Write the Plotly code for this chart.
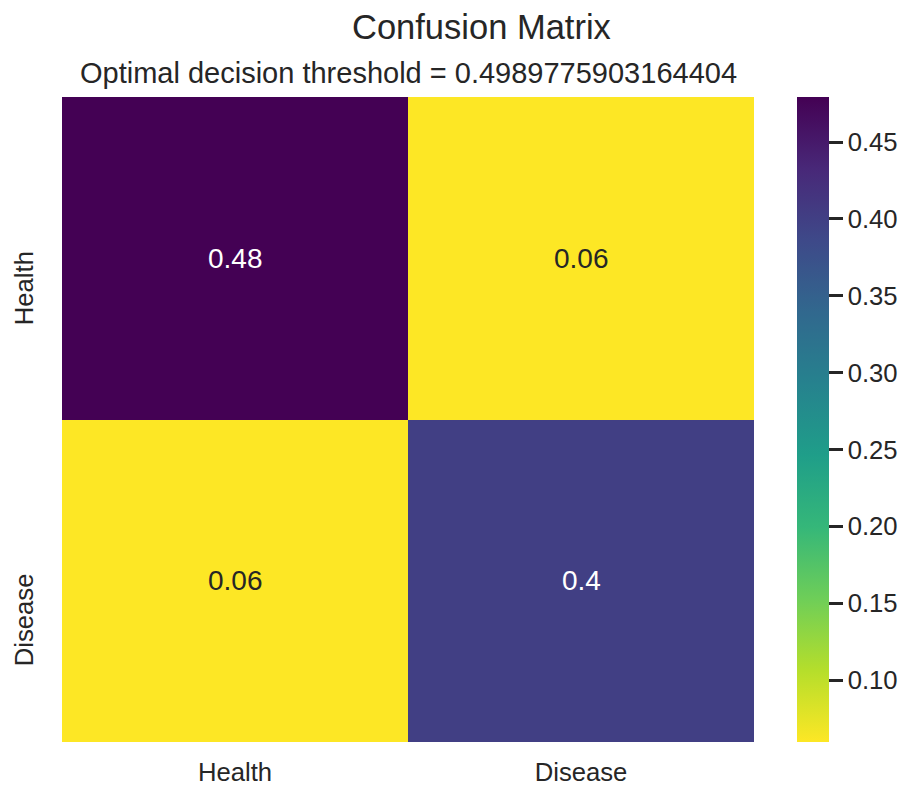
import plotly.graph_objects as go

# ---- data ----
classes = ["Health", "Disease"]
z_values = [[0.4793, 0.0598],
            [0.0600, 0.4001]]
title_text = "Confusion Matrix"
subtitle_text = "Optimal decision threshold = 0.4989775903164404"
cbar_ticks = [0.10, 0.15, 0.20, 0.25, 0.30, 0.35, 0.40, 0.45]

FONT = "Liberation Sans, Arial, sans-serif"
INK = "#262626"
BASE = 28

zmin = min(min(r) for r in z_values)
zmax = max(max(r) for r in z_values)

fig = go.Figure()
fig.add_trace(go.Heatmap(
    z=z_values, x=classes, y=classes,
    colorscale="Viridis_r", zmin=zmin, zmax=zmax,
    hoverinfo="skip",
    colorbar=dict(
        x=(797 - 62) / 692, xanchor="left", xref="paper", xpad=0, ypad=0,
        y=0.5, yanchor="middle", len=1.0, lenmode="fraction",
        thickness=32, outlinewidth=0,
        tickvals=cbar_ticks, ticktext=[f"{t:.2f}" for t in cbar_ticks],
        ticks="outside", ticklen=14, tickwidth=2.5, tickcolor=INK,
        tickfont=dict(family=FONT, size=BASE * 11 / 12, color=INK),
    ),
))

annotations = []
mid = (zmin + zmax) / 2
for i, yc in enumerate(classes):
    for j, xc in enumerate(classes):
        v = z_values[i][j]
        annotations.append(dict(
            x=xc, y=yc, xref="x", yref="y", text=format(v, ".2g"),
            showarrow=False,
            font=dict(family=FONT, size=BASE, color="white" if v > mid else INK),
        ))

# y tick labels (rotated)
for yc in classes:
    annotations.append(dict(
        x=(24 - 62) / 692, xref="paper", xanchor="center",
        y=yc, yref="y", yanchor="top", yshift=9,
        text=yc, textangle=-90, showarrow=False,
        font=dict(family=FONT, size=BASE * 11 / 12, color=INK),
    ))

annotations.append(dict(
    x=(481 - 62) / 692, xref="paper", xanchor="center",
    y=(742 - 27) / 645, yref="paper", yanchor="middle",
    text=title_text, showarrow=False,
    font=dict(family=FONT, size=34.5, color=INK),
))
annotations.append(dict(
    x=(409 - 62) / 692, xref="paper", xanchor="center",
    y=(742 - 73.5) / 645, yref="paper", yanchor="middle",
    text=subtitle_text, showarrow=False,
    font=dict(family=FONT, size=29, color=INK),
))

fig.update_layout(
    width=909, height=791,
    margin=dict(l=62, r=155, t=97, b=49, pad=0, autoexpand=False),
    paper_bgcolor="white", plot_bgcolor="white",
    annotations=annotations,
    xaxis=dict(showgrid=False, zeroline=False, showline=False, ticks="",
               automargin=False,
               tickfont=dict(family=FONT, size=BASE * 11 / 12, color=INK),
               ticklabelstandoff=12),
    yaxis=dict(showgrid=False, zeroline=False, showline=False, ticks="",
               automargin=False,
               autorange="reversed", showticklabels=False),
)

fig.write_html("out.html")
